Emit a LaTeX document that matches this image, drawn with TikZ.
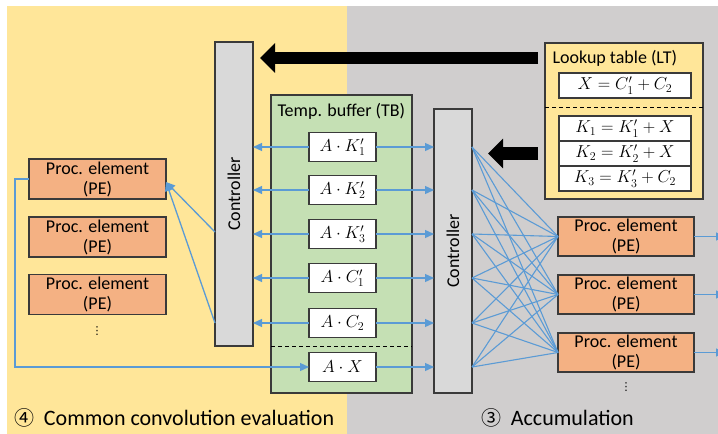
\documentclass[tikz,border=0pt]{standalone}
\usepackage{fontspec}
\setmainfont{Carlito}
\newfontfamily\circfont{Noto Sans CJK SC}
\newfontfamily\symfont{DejaVu Sans}
\usetikzlibrary{arrows.meta,calc}

\definecolor{bgyellow}{HTML}{FFE699}
\definecolor{bggray}{HTML}{D0CECE}
\definecolor{tbgreen}{HTML}{C5E0B4}
\definecolor{peorange}{HTML}{F4B183}
\definecolor{ctlgray}{HTML}{D9D9D9}
\definecolor{wire}{HTML}{5B9BD5}
\definecolor{edgec}{HTML}{3A3A3A}

\begin{document}
\begin{tikzpicture}[x=1pt,y=-1pt,
  txt/.style={font=\fontsize{18}{20}\selectfont},
  mth/.style={font=\fontsize{18}{20}\selectfont},
  boxbase/.style={draw=edgec, line width=1.2pt, inner sep=0pt, outer sep=0pt},
  ctl/.style={boxbase, fill=ctlgray, minimum width=38pt, txt},
  pe/.style={boxbase, fill=peorange, minimum width=137pt, minimum height=40pt,
     txt, align=center},
  cell/.style={boxbase, fill=white, minimum width=67pt, minimum height=29pt, mth},
  ltcell/.style={boxbase, fill=white, minimum width=132pt, minimum height=25pt, mth},
  wireline/.style={draw=wire, line width=1.3pt},
  wirearrow/.style={wireline, -{Triangle[length=9pt,width=8pt]}},
  fatarrow/.style={draw=black, -{Triangle[length=15pt,width=29pt]}},
  dashsep/.style={draw=black, line width=1pt, dash pattern=on 4pt off 3pt},
  dots/.style={font=\symfont\fontsize{11}{12}\selectfont, inner sep=0pt},
  caption/.style={font=\fontsize{22}{26}\selectfont, anchor=west},
  circnum/.style={font=\circfont\fontsize{20}{24}\selectfont, anchor=west, inner sep=0pt},
]
\useasboundingbox (0,0) rectangle (718,434);
\fill[white] (0,0) rectangle (718,434);

% stage backgrounds
\fill[bgyellow] (7,6) rectangle (347,434);
\fill[bggray] (347,6) rectangle (718,434);

% temporary buffer
\node[boxbase, fill=tbgreen, minimum width=141pt, minimum height=298pt] (tb) at (341.5,244) {};
\node[txt, anchor=west] (tbtitle) at (274,111) {Temp. buffer (TB)};
\draw[dashsep] (271,346) -- (412,346);
\node[cell] (tk1) at (342.5,147) {$A\cdot K_1'$};
\node[cell] (tk2) at (342.5,190) {$A\cdot K_2'$};
\node[cell] (tk3) at (342.5,234) {$A\cdot K_3'$};
\node[cell] (tc1) at (342.5,278) {$A\cdot C_1'$};
\node[cell] (tc2) at (342.5,323) {$A\cdot C_2$};
\node[cell] (tx)  at (342.5,367) {$A\cdot X$};

% controllers
\node[ctl, minimum height=304pt] (ctlL) at (234,194) {\rotatebox{90}{Controller}};
\node[ctl, minimum height=284pt] (ctlR) at (453,251) {\rotatebox{90}{Controller}};

% lookup table
\node[boxbase, fill=bgyellow, minimum width=158pt, minimum height=156pt] (lt) at (624,121) {};
\node[txt, anchor=west] (lttitle) at (549,58) {Lookup table (LT)};
\node[ltcell] (lx) at (625,85.5) {$X = C_1' + C_2$};
\draw[dashsep] (545,107) -- (703,107);
\node[ltcell] (lk1) at (625,128.5) {$K_1 = K_1' + X$};
\node[ltcell] (lk2) at (625,153.5) {$K_2 = K_2' + X$};
\node[ltcell] (lk3) at (625,178.5) {$K_3 = K_3' + C_2$};

% processing elements, convolution side
\node[pe] (pl1) at (97.5,179) {Proc. element\\(PE)};
\node[pe] (pl2) at (97.5,237) {Proc. element\\(PE)};
\node[pe] (pl3) at (97.5,294.5) {Proc. element\\(PE)};
\node[dots] (dl) at (97,331) {⋮};

% processing elements, accumulation side
\node[pe, minimum width=136pt, minimum height=39pt] (pr1) at (626,236.5) {Proc. element\\(PE)};
\node[pe, minimum width=136pt, minimum height=39pt] (pr2) at (626,294.5) {Proc. element\\(PE)};
\node[pe, minimum width=136pt, minimum height=39pt] (pr3) at (626,352.5) {Proc. element\\(PE)};
\node[dots] (dr) at (626,387) {⋮};

% lookup table feeding both controllers
\draw[fatarrow, line width=12pt] ([xshift=-7pt]lt.west |- lttitle) -- ([xshift=7pt]ctlL.east |- lttitle);
\draw[fatarrow, line width=13pt] ([xshift=-7pt]lt.west |- lk2) -- ([xshift=16pt]ctlR.east |- lk2);

% buffer entries to both controllers
\foreach \c in {tk1,tk2,tk3,tc1,tc2}{
  \draw[wirearrow] (\c.west) -- (\c -| ctlL.east);
}
\foreach \c in {tk1,tk2,tk3,tc1,tc2,tx}{
  \draw[wirearrow] (\c.east) -- (\c -| ctlR.west);
}

% left controller to first PE
\draw[wirearrow] ([yshift=2pt]tk3 -| ctlL.west) -- ([yshift=-3pt]pl1.east);
\draw[wirearrow] (tc2 -| ctlL.west) -- ([yshift=-3pt]pl1.east);

% feedback from the first PE into the buffer
\coordinate (fb) at (15,367);
\draw[wirearrow] (pl1.west) -| (fb) -- (tx.west);

% full crossbar from the right controller to the PEs
\foreach \c in {tk1,tk2,tk3,tc1,tc2,tx}{
  \foreach \p in {pr1,pr2,pr3}{
    \draw[wireline, line width=1.1pt] (\c -| ctlR.east) -- (\p.west);
  }
}

% PE outputs
\foreach \p in {pr1,pr2,pr3}{
  \draw[wirearrow] (\p.east) -- ++(31,0);
}

% stage captions
\node[circnum] (n4) at (14,418) {④};
\node[caption] (cap4) at ([xshift=6pt]n4.east) {Common convolution evaluation};
\node[circnum] (n3) at (481,418) {③};
\node[caption] (cap3) at ([xshift=6pt]n3.east) {Accumulation};
\end{tikzpicture}
\end{document}
